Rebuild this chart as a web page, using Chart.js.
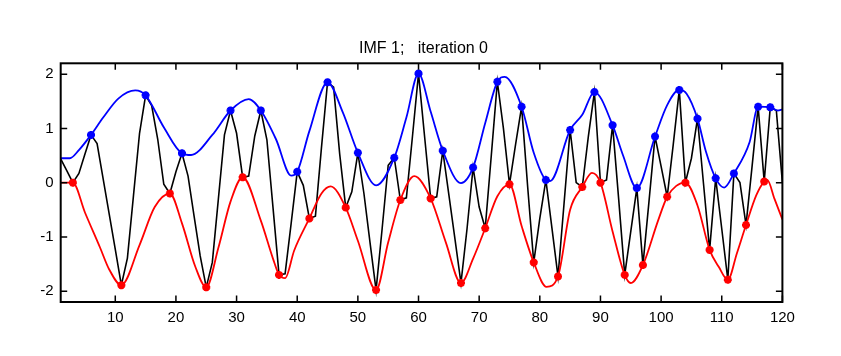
<!DOCTYPE html>
<html>
<head>
<meta charset="utf-8">
<style>
html,body{margin:0;padding:0;background:#ffffff;}
#wrap{width:841px;height:356px;position:relative;}
</style>
<script src="https://cdn.jsdelivr.net/npm/chart.js@4.4.1/dist/chart.umd.min.js"></script>
</head>
<body>
<div id="wrap"><canvas id="c" width="841" height="356"></canvas></div>
<script>
// ---- data ----
const titleText = 'IMF 1;   iteration 0';
const xTicks = [10, 20, 30, 40, 50, 60, 70, 80, 90, 100, 110, 120];
const yTicks = [-2, -1, 0, 1, 2];

// signal sampled at x = 1..120
const signal = [
  0.44, 0.22, 0.00, 0.17, 0.53, 0.88, 0.72, 0.07, -0.58, -1.23,
  -1.89, -1.39, -0.24, 0.91, 1.61, 1.42, 0.80, -0.03, -0.20, 0.20,
  0.54, 0.12, -0.62, -1.35, -1.93, -1.47, -0.30, 0.88, 1.33, 0.91,
  0.10, 0.12, 0.86, 1.33, 0.79, -0.45, -1.70, -1.68, -0.75, 0.20,
  -0.05, -0.66, -0.62, 0.65, 1.85, 1.76, 0.53, -0.46, -0.17, 0.55,
  -0.20, -1.10, -1.98, -0.85, 0.32, 0.46, -0.32, -0.28, 0.85, 2.01,
  0.85, -0.29, -0.26, 0.59, -0.22, -1.03, -1.85, -0.85, 0.28, -0.45,
  -0.84, 0.50, 1.86, 1.00, -0.03, 0.70, 1.40, -0.08, -1.47, -0.66,
  0.05, -0.84, -1.73, -0.38, 0.97, 0.00, -0.08, 0.85, 1.67, 0.00,
  0.05, 1.06, -0.30, -1.70, -0.90, -0.10, -1.52, -0.35, 0.85, 0.30,
  -0.26, 0.70, 1.71, 0.00, 0.45, 1.18, -0.03, -1.24, 0.08, -0.85,
  -1.79, 0.17, 0.00, -0.78, 0.30, 1.40, 0.02, 1.39, 1.33, 0.00
];

// positions of the maxima (blue stars) and minima (red stars)
const maxX = [6, 15, 21, 29, 34, 40, 45, 50, 56, 60, 64, 69, 73, 77, 81, 85, 89, 92, 96, 99, 103, 106, 109, 112, 116, 118];
const minX = [3, 11, 19, 25, 31, 37, 42, 48, 53, 57, 62, 67, 71, 75, 79, 83, 87, 90, 94, 97, 101, 104, 108, 111, 114, 117];

// upper envelope (blue)
const upperX = [1, 2.5, 4, 6, 8, 10.5, 13.3, 15, 18, 21, 22.5, 26, 29, 32, 34, 36.5, 39, 40, 42, 45, 47.5, 50, 53, 56, 58, 60, 62, 64, 67, 69, 71, 73, 74.2, 77, 79, 81, 81.7, 85, 87, 89, 92, 93.7, 96, 99, 101, 103, 104.2, 106, 107.4, 109, 110.4, 112, 114.6, 116, 118, 119.2, 120];
const upperY = [0.45, 0.45, 0.60, 0.88, 1.20, 1.55, 1.70, 1.61, 1.02, 0.54, 0.51, 0.88, 1.33, 1.54, 1.33, 0.80, 0.13, 0.20, 0.95, 1.85, 1.30, 0.55, -0.05, 0.46, 1.20, 2.01, 1.31, 0.59, -0.01, 0.28, 1.10, 1.86, 1.95, 1.40, 0.55, 0.05, 0.03, 0.97, 1.25, 1.67, 1.06, 0.51, -0.10, 0.85, 1.43, 1.71, 1.64, 1.18, 0.57, 0.08, -0.09, 0.17, 0.75, 1.40, 1.39, 1.33, 1.35];

// lower envelope (red)
const lowerX = [1, 3, 5, 7.5, 9, 11, 14, 16.5, 19, 21, 23.2, 25, 27, 29, 31, 34, 36, 37, 38, 39.5, 42, 44, 45.5, 48, 50, 53, 55, 57, 59.3, 62, 64.5, 67, 69, 71, 73, 75, 77, 79, 81.1, 83, 85, 87, 88.6, 90, 92, 94, 95, 97, 99.5, 101, 102.5, 104, 106, 108, 109.5, 111, 112.5, 114, 115.7, 117, 117.5, 118.7, 120];
const lowerY = [0.00, 0.00, -0.55, -1.20, -1.60, -1.89, -1.15, -0.45, -0.20, -0.75, -1.55, -1.93, -1.20, -0.35, 0.10, -0.70, -1.40, -1.70, -1.76, -1.25, -0.66, -0.20, -0.07, -0.46, -1.07, -1.98, -1.10, -0.32, 0.12, -0.29, -1.10, -1.85, -1.40, -0.84, -0.25, -0.03, -0.80, -1.47, -1.92, -1.73, -0.50, -0.08, 0.18, 0.00, -0.90, -1.70, -1.85, -1.52, -0.70, -0.26, -0.06, 0.00, -0.42, -1.24, -1.55, -1.79, -1.30, -0.78, -0.23, 0.02, 0.05, -0.30, -0.68];

// ---- chart ----
const FONT = '"Liberation Sans", Arial, Helvetica, sans-serif';

const boxPlugin = {
  id: 'matlabBox',
  afterDraw(chart) {
    const {ctx, chartArea: a, scales} = chart;
    ctx.save();
    ctx.strokeStyle = '#000';
    ctx.lineWidth = 2;
    ctx.strokeRect(a.left, a.top, a.right - a.left, a.bottom - a.top);
    const tl = 6.5;
    ctx.lineWidth = 1.5;
    ctx.beginPath();
    xTicks.forEach(v => {
      const px = scales.x.getPixelForValue(v);
      ctx.moveTo(px, a.bottom); ctx.lineTo(px, a.bottom - tl);
      ctx.moveTo(px, a.top); ctx.lineTo(px, a.top + tl);
    });
    yTicks.forEach(v => {
      const py = scales.y.getPixelForValue(v);
      ctx.moveTo(a.left, py); ctx.lineTo(a.left + tl, py);
      ctx.moveTo(a.right, py); ctx.lineTo(a.right - tl, py);
    });
    ctx.stroke();
    // title
    ctx.fillStyle = '#000';
    ctx.font = '16px ' + FONT;
    ctx.textAlign = 'center';
    ctx.textBaseline = 'alphabetic';
    ctx.fillText(titleText, (a.left + a.right) / 2 + 2, 53);
    ctx.restore();
  }
};

const ctx = document.getElementById('c').getContext('2d');
new Chart(ctx, {
  type: 'line',
  data: {
    datasets: [
      {
        label: 'maxima',
        data: maxX.map(x => ({x: x, y: signal[x - 1]})),
        showLine: false,
        pointStyle: 'star',
        pointRadius: 4,
        pointBorderWidth: 2.6,
        borderColor: '#0000ff',
        backgroundColor: '#0000ff',
        order: 0
      },
      {
        label: 'minima',
        data: minX.map(x => ({x: x, y: signal[x - 1]})),
        showLine: false,
        pointStyle: 'star',
        pointRadius: 4,
        pointBorderWidth: 2.6,
        borderColor: '#ff0000',
        backgroundColor: '#ff0000',
        order: 0
      },
      {
        label: 'upper',
        data: upperX.map((x, i) => ({x: x, y: upperY[i]})),
        borderColor: '#0000ff',
        borderWidth: 1.8,
        pointRadius: 0,
        cubicInterpolationMode: 'monotone',
        tension: 0.4,
        fill: false,
        order: 1
      },
      {
        label: 'lower',
        data: lowerX.map((x, i) => ({x: x, y: lowerY[i]})),
        borderColor: '#ff0000',
        borderWidth: 1.8,
        pointRadius: 0,
        cubicInterpolationMode: 'monotone',
        tension: 0.4,
        fill: false,
        order: 1
      },
      {
        label: 'signal',
        data: signal.map((y, i) => ({x: i + 1, y: y})),
        borderColor: '#000000',
        borderWidth: 1.6,
        pointRadius: 0,
        tension: 0,
        fill: false,
        order: 2
      }
    ]
  },
  options: {
    responsive: false,
    animation: false,
    devicePixelRatio: 1,
    layout: {padding: {left: 0, right: 58.6, top: 63.3, bottom: 24}},
    plugins: {legend: {display: false}, title: {display: false}, tooltip: {enabled: false}},
    scales: {
      x: {
        type: 'linear',
        min: 1,
        max: 120,
        afterBuildTicks: s => { s.ticks = xTicks.map(v => ({value: v})); },
        afterFit: s => { s.height = 30; },
        grid: {display: false, drawTicks: false},
        border: {display: false},
        ticks: {color: '#000', font: {family: FONT, size: 15}, padding: 7, maxRotation: 0, autoSkip: false}
      },
      y: {
        type: 'linear',
        min: -2.2,
        max: 2.2,
        afterBuildTicks: s => { s.ticks = yTicks.map(v => ({value: v})); },
        afterFit: s => { s.width = 60.7; },
        grid: {display: false, drawTicks: false},
        border: {display: false},
        ticks: {color: '#000', font: {family: FONT, size: 15}, padding: 7}
      }
    }
  },
  plugins: [boxPlugin]
});
</script>
</body>
</html>
